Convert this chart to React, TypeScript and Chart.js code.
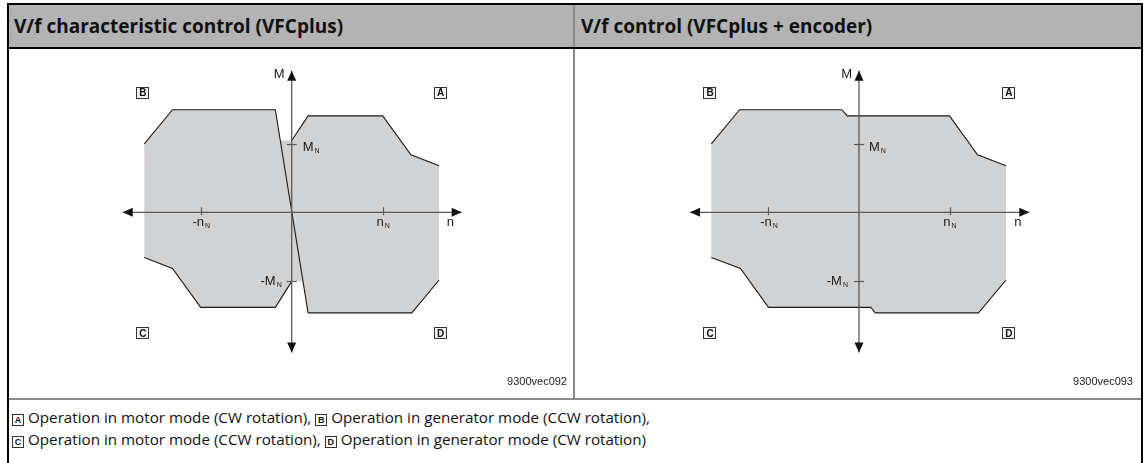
import React, { useEffect, useRef } from 'react';
import { Chart, registerables } from 'chart.js';

Chart.register(...registerables);

// ---------- data (x: n / n_N, y: M / M_N) ----------
const nTicks = [-1, 1];
const nTickLabels = ['-n', 'n'];
const mTicks = [1, -1];
const mTickLabels = ['M', '-M'];
const tickSub = 'N';
const xAxisName = 'n';
const yAxisName = 'M';

const quadrantLetters = ['A', 'B', 'C', 'D'];
const quadrantY = [1.75, 1.75, -1.77, -1.77];

// Left diagram: V/f characteristic control (VFCplus)
const vfcQuadrantX = [1.63, -1.64, -1.64, 1.63];
const vfcAxisH = [-1.857, 1.868];
const vfcAxisV = [-2.05, 2.07];
const vfcUpperBX = [-1.62, -1.31, -0.18, 0.18];
const vfcUpperBY = [1.0, 1.5, 1.5, -1.47];
const vfcLowerCX = [-1.62, -1.31, -1.0, -0.18, 0];
const vfcLowerCY = [-0.66, -0.82, -1.39, -1.39, -1.01];
const vfcUpperAX = [0, 0.18, 1.0, 1.31, 1.62];
const vfcUpperAY = [1.05, 1.41, 1.41, 0.84, 0.68];
const vfcLowerDX = [1.62, 1.32, 0.18];
const vfcLowerDY = [-0.99, -1.47, -1.47];
const vfcAreaX = [-1.62, -1.31, -0.18, -0.125, 0, 0.18, 1.0, 1.31, 1.62, 1.62, 1.32, 0.18, 0.125, 0, -0.18, -1.0, -1.31, -1.62];
const vfcAreaY = [1.0, 1.5, 1.5, 1.05, 1.05, 1.41, 1.41, 0.84, 0.68, -0.99, -1.47, -1.47, -1.01, -1.01, -1.39, -1.39, -0.82, -0.66];

// Right diagram: V/f control (VFCplus + encoder)
const encQuadrantX = [1.65, -1.65, -1.65, 1.65];
const encAxisH = [-1.867, 1.882];
const encAxisV = [-2.05, 2.07];
const encUpperX = [-1.632, -1.32, -0.19, -0.13, 1.0, 1.31, 1.625];
const encUpperY = [1.0, 1.5, 1.5, 1.41, 1.41, 0.84, 0.68];
const encLowerX = [-1.632, -1.31, -1.0, 0.13, 0.18, 1.32, 1.625];
const encLowerY = [-0.66, -0.82, -1.39, -1.39, -1.47, -1.47, -0.99];

const AREA = '#d1d2d4';
const AXIS = '#5a5a5a';
const LABEL_FONT = '"Liberation Sans", Arial, sans-serif';

type Cfg = {
  width: number;
  height: number;
  xMin: number;
  xMax: number;
  yMin: number;
  yMax: number;
  axisH: number[];
  axisV: number[];
  quadX: number[];
  outlines: [number[], number[]][];
  areaX: number[];
  areaY: number[];
  mOffsets: { pos: number; neg: number };
};

const zip = (xs: number[], ys: number[]) => xs.map((x, i) => ({ x, y: ys[i] }));

function drawSub(ctx: CanvasRenderingContext2D, main: string, sub: string, x: number, y: number, align: 'left' | 'right' | 'center') {
  ctx.font = `13px ${LABEL_FONT}`;
  const w1 = ctx.measureText(main).width;
  ctx.font = `7px ${LABEL_FONT}`;
  const w2 = ctx.measureText(sub).width;
  const total = w1 + 1 + w2;
  let sx = x;
  if (align === 'right') sx = x - total;
  if (align === 'center') sx = x - total / 2;
  ctx.textAlign = 'left';
  ctx.textBaseline = 'alphabetic';
  ctx.font = `13px ${LABEL_FONT}`;
  ctx.fillText(main, sx, y);
  ctx.font = `7px ${LABEL_FONT}`;
  ctx.fillText(sub, sx + w1 + 1, y + 1.5);
}

function arrow(ctx: CanvasRenderingContext2D, tx: number, ty: number, dx: number, dy: number) {
  const len = 10;
  const hw = 4.5;
  const bx = tx - dx * len;
  const by = ty - dy * len;
  ctx.beginPath();
  ctx.moveTo(tx, ty);
  ctx.lineTo(bx - dy * hw, by + dx * hw);
  ctx.lineTo(bx + dy * hw, by - dx * hw);
  ctx.closePath();
  ctx.fill();
}

function makePlugin(cfg: Cfg) {
  return {
    id: 'diagram',
    beforeDatasetsDraw(chart: any) {
      const { ctx } = chart;
      const sx = chart.scales.x;
      const sy = chart.scales.y;
      ctx.save();
      ctx.beginPath();
      cfg.areaX.forEach((v, i) => {
        const px = sx.getPixelForValue(v);
        const py = sy.getPixelForValue(cfg.areaY[i]);
        if (i === 0) ctx.moveTo(px, py);
        else ctx.lineTo(px, py);
      });
      ctx.closePath();
      ctx.fillStyle = AREA;
      ctx.fill();
      ctx.restore();
    },
    afterDatasetsDraw(chart: any) {
      const { ctx } = chart;
      const sx = chart.scales.x;
      const sy = chart.scales.y;
      const ox = sx.getPixelForValue(0);
      const oy = sy.getPixelForValue(0);
      ctx.save();
      ctx.fillStyle = '#111';
      arrow(ctx, sx.getPixelForValue(cfg.axisH[1]), oy, 1, 0);
      arrow(ctx, sx.getPixelForValue(cfg.axisH[0]), oy, -1, 0);
      arrow(ctx, ox, sy.getPixelForValue(cfg.axisV[1]), 0, -1);
      arrow(ctx, ox, sy.getPixelForValue(cfg.axisV[0]), 0, 1);
      ctx.strokeStyle = AXIS;
      ctx.lineWidth = 1.2;
      nTicks.forEach((t) => {
        const px = Math.round(sx.getPixelForValue(t)) + 0.5;
        ctx.beginPath();
        ctx.moveTo(px, oy - 5);
        ctx.lineTo(px, oy + 3);
        ctx.stroke();
      });
      mTicks.forEach((t) => {
        const py = Math.round(sy.getPixelForValue(t)) + 0.5;
        ctx.beginPath();
        ctx.moveTo(ox - 5, py);
        ctx.lineTo(ox + 5, py);
        ctx.stroke();
      });
      ctx.fillStyle = '#1a1a1a';
      nTicks.forEach((t, i) => {
        drawSub(ctx, nTickLabels[i], tickSub, sx.getPixelForValue(t) + 0.5, oy + 14, 'center');
      });
      drawSub(ctx, mTickLabels[0], tickSub, ox + cfg.mOffsets.pos, sy.getPixelForValue(mTicks[0]) + 7.5, 'left');
      drawSub(ctx, mTickLabels[1], tickSub, ox - cfg.mOffsets.neg, sy.getPixelForValue(mTicks[1]) + 4.5, 'right');
      ctx.font = `13px ${LABEL_FONT}`;
      ctx.textBaseline = 'alphabetic';
      ctx.textAlign = 'right';
      ctx.fillText(yAxisName, ox - 7, sy.getPixelForValue(cfg.axisV[1]) + 7);
      ctx.textAlign = 'left';
      ctx.fillText(xAxisName, sx.getPixelForValue(cfg.axisH[1]) - 15, oy + 14);
      quadrantLetters.forEach((q, i) => {
        const cx = sx.getPixelForValue(cfg.quadX[i]);
        const cy = sy.getPixelForValue(quadrantY[i]);
        ctx.fillStyle = '#f4f4f4';
        ctx.fillRect(Math.round(cx - 6.5), Math.round(cy - 6), 13, 12);
        ctx.strokeStyle = '#333';
        ctx.lineWidth = 1;
        ctx.strokeRect(Math.round(cx - 6.5) + 0.5, Math.round(cy - 6) + 0.5, 12, 11);
        ctx.fillStyle = '#111';
        ctx.font = `bold 10px ${LABEL_FONT}`;
        ctx.textAlign = 'center';
        ctx.textBaseline = 'middle';
        ctx.fillText(q, cx + 0.5, cy + 0.8);
      });
      ctx.restore();
    },
  };
}

function Diagram({ cfg }: { cfg: Cfg }) {
  const ref = useRef<HTMLCanvasElement | null>(null);
  useEffect(() => {
    if (!ref.current) return;
    const datasets: any[] = [
      { data: zip(cfg.axisH, [0, 0]), borderColor: AXIS, borderWidth: 1.3 },
      { data: zip([0, 0], cfg.axisV), borderColor: AXIS, borderWidth: 1.3 },
      ...cfg.outlines.map(([xs, ys]) => ({ data: zip(xs, ys), borderColor: '#1a1a1a', borderWidth: 1.1 })),
    ].map((d) => ({ ...d, showLine: true, pointRadius: 0, fill: false, tension: 0 }));
    const chart = new Chart(ref.current, {
      type: 'scatter',
      data: { datasets },
      options: {
        animation: false,
        responsive: false,
        maintainAspectRatio: false,
        events: [],
        layout: { padding: 0 },
        plugins: { legend: { display: false }, tooltip: { enabled: false } },
        scales: {
          x: { type: 'linear', display: false, min: cfg.xMin, max: cfg.xMax },
          y: { type: 'linear', display: false, min: cfg.yMin, max: cfg.yMax },
        },
      },
      plugins: [makePlugin(cfg)],
    } as any);
    return () => chart.destroy();
  }, [cfg]);
  return <canvas ref={ref} width={cfg.width} height={cfg.height} style={{ display: 'block', width: cfg.width, height: cfg.height }} />;
}

const leftCfg: Cfg = {
  width: 564,
  height: 349,
  xMin: -3.1066,
  xMax: 3.0912,
  yMin: -2.7149,
  yMax: 2.3874,
  axisH: vfcAxisH,
  axisV: vfcAxisV,
  quadX: vfcQuadrantX,
  outlines: [
    [vfcUpperBX, vfcUpperBY],
    [vfcLowerCX, vfcLowerCY],
    [vfcUpperAX, vfcUpperAY],
    [vfcLowerDX, vfcLowerDY],
  ],
  areaX: vfcAreaX,
  areaY: vfcAreaY,
  mOffsets: { pos: 11, neg: 10 },
};

const rightCfg: Cfg = {
  width: 566,
  height: 349,
  xMin: -3.1381,
  xMax: 3.116,
  yMin: -2.7149,
  yMax: 2.3874,
  axisH: encAxisH,
  axisV: encAxisV,
  quadX: encQuadrantX,
  outlines: [
    [encUpperX, encUpperY],
    [encLowerX, encLowerY],
  ],
  areaX: [...encUpperX, ...[...encLowerX].reverse()],
  areaY: [...encUpperY, ...[...encLowerY].reverse()],
  mOffsets: { pos: 10, neg: 11 },
};

const headers = ['V/f characteristic control (VFCplus)', 'V/f control (VFCplus + encoder)'];
const figureIds = ['9300vec092', '9300vec093'];
const footerLines: [string, string][][] = [
  [
    ['A', 'Operation in motor mode (CW rotation), '],
    ['B', 'Operation in generator mode (CCW rotation),'],
  ],
  [
    ['C', 'Operation in motor mode (CCW rotation), '],
    ['D', 'Operation in generator mode (CW rotation)'],
  ],
];

const TEXT_FONT = '"Open Sans", "Noto Sans", sans-serif';

function Box({ l }: { l: string }) {
  return (
    <span
      style={{
        display: 'inline-block',
        width: 10,
        height: 10,
        border: '1px solid #333',
        fontFamily: LABEL_FONT,
        fontSize: 9,
        fontWeight: 700,
        lineHeight: '10px',
        textAlign: 'center',
        verticalAlign: '0px',
        marginRight: 4,
        color: '#111',
      }}
    >
      {l}
    </span>
  );
}

const abs = (l: number, t: number, w: number, h: number, bg: string): React.CSSProperties => ({
  position: 'absolute',
  left: l,
  top: t,
  width: w,
  height: h,
  background: bg,
});

export default function App() {
  return (
    <div style={{ position: 'absolute', left: 0, top: 0, width: 1145, height: 463, background: '#fff', overflow: 'hidden' }}>
      <div style={abs(9, 5, 1132, 42, '#b3b3b3')} />
      <div style={abs(7, 3, 1136, 2, '#000')} />
      <div style={abs(7, 47, 1136, 2, '#000')} />
      <div style={abs(7, 3, 2, 460, '#000')} />
      <div style={abs(1141, 3, 2, 460, '#000')} />
      <div style={abs(573, 5, 2, 42, '#8a8a8a')} />
      <div style={abs(573, 49, 2, 349, '#8a8a8a')} />
      <div style={abs(9, 398, 1132, 2, '#8a8a8a')} />
      {headers.map((h, i) => (
        <div
          key={h}
          style={{
            position: 'absolute',
            left: i === 0 ? 14 : 581,
            top: 12,
            fontFamily: TEXT_FONT,
            fontWeight: 700,
            fontSize: 19,
            lineHeight: '28px',
            color: '#111',
            whiteSpace: 'nowrap',
          }}
        >
          {h}
        </div>
      ))}
      <div style={{ position: 'absolute', left: 9, top: 49 }}>
        <Diagram cfg={leftCfg} />
      </div>
      <div style={{ position: 'absolute', left: 575, top: 49 }}>
        <Diagram cfg={rightCfg} />
      </div>
      {figureIds.map((f, i) => (
        <div
          key={f}
          style={{
            position: 'absolute',
            right: i === 0 ? 1145 - 567 : 1145 - 1133,
            top: 374,
            fontFamily: LABEL_FONT,
            fontSize: 11,
            lineHeight: '14px',
            color: '#222',
          }}
        >
          {f}
        </div>
      ))}
      {footerLines.map((line, li) => (
        <div
          key={li}
          style={{
            position: 'absolute',
            left: 12,
            top: 406 + li * 22,
            fontFamily: TEXT_FONT,
            fontSize: 15.2,
            lineHeight: '22px',
            color: '#111',
            whiteSpace: 'nowrap',
          }}
        >
          {line.map(([l, t]) => (
            <span key={l}>
              <Box l={l} />
              {t}
            </span>
          ))}
        </div>
      ))}
    </div>
  );
}
